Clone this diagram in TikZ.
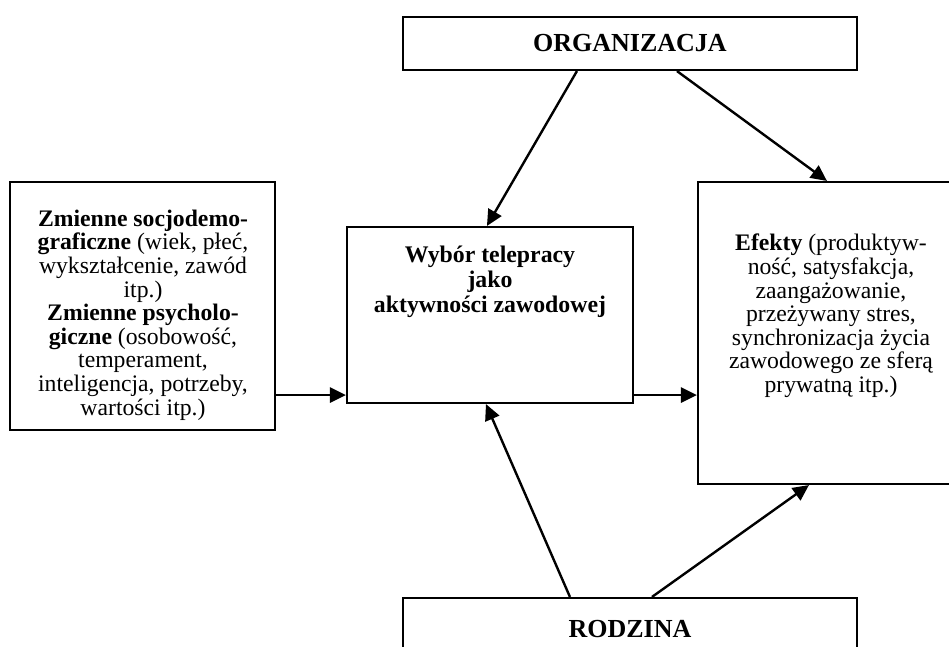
\documentclass[tikz,border=0pt]{standalone}
\usepackage{fontspec}
\setmainfont{Liberation Serif}
\usetikzlibrary{arrows.meta}
\begin{document}
\begin{tikzpicture}[x=1pt,y=-1pt,
  box/.style={draw=black, line width=2.1pt, rectangle, inner sep=0pt},
  arr/.style={line width=2.4pt, -{Triangle[length=16pt,width=15pt]}},
  bodytxt/.style={align=center, inner sep=0pt, font=\fontsize{23.7}{23.6}\selectfont},
  boldtxt/.style={align=center, inner sep=0pt, font=\fontsize{23.8}{25}\selectfont\bfseries},
  headtxt/.style={inner sep=0pt, font=\fontsize{26}{28}\selectfont\bfseries}]
\useasboundingbox (0,0) rectangle (949,646);
\clip (0,0) rectangle (949,646);
\fill[white] (0,0) rectangle (949,646);

% boxes
\node[box, minimum width=454pt, minimum height=53pt] (org) at (630,43.5) {};
\node[box, minimum width=454pt, minimum height=102pt] (rodz) at (630,649) {};
\node[box, minimum width=265pt, minimum height=248pt] (left) at (142.5,306) {};
\node[box, minimum width=286pt, minimum height=176pt] (mid) at (490,315) {};
\node[box, minimum width=266pt, minimum height=302pt] (right) at (831,333) {};

% texts
\node[headtxt] (orgt) at (630,43) {ORGANIZACJA};
\node[headtxt] (rodzt) at (630,629) {RODZINA};
\node[bodytxt] (leftt) at (143,315) {\textbf{Zmienne socjodemo-}\\
  \textbf{graficzne} (wiek, płeć,\\
  wykształcenie, zawód\\
  itp.)\\
  \textbf{Zmienne psycholo-}\\
  \textbf{giczne} (osobowość,\\
  temperament,\\
  inteligencja, potrzeby,\\
  wartości itp.)};
\node[boldtxt] (midt) at (490,282) {Wybór telepracy\\ jako\\ aktywności zawodowej};
\node[bodytxt] (rightt) at (831,316) {\textbf{Efekty} (produktyw-\\
  ność, satysfakcja,\\
  zaangażowanie,\\
  przeżywany stres,\\
  synchronizacja życia\\
  zawodowego ze sferą\\
  prywatną itp.)};

% connector ends
\coordinate (midinL) at ([yshift=9pt]mid.south west);
\coordinate (midoutR) at ([yshift=9pt]mid.south east);

% connectors
\draw[arr] ([xshift=175pt]org.south west) -- ([xshift=141pt]mid.north west);
\draw[arr] ([xshift=275pt]org.south west) -- ([xshift=130pt]right.north west);
\draw[arr] (left.east |- midinL) -- (midinL);
\draw[arr] (midoutR) -- (right.west |- midoutR);
\draw[arr] ([xshift=168pt]rodz.north west) -- ([xshift=140pt]mid.south west);
\draw[arr] ([xshift=250pt]rodz.north west) -- ([xshift=112pt]right.south west);
\end{tikzpicture}
\end{document}
